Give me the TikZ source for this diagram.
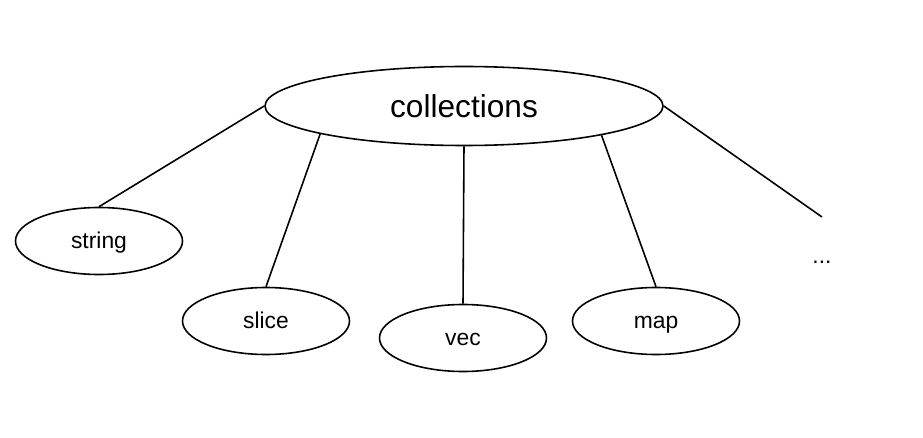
\documentclass[tikz,border=0pt]{standalone}
\usepackage{fontspec}
\setmainfont{Liberation Sans}
\usetikzlibrary{shapes.geometric}

\begin{document}
\begin{tikzpicture}[x=0.2mm,y=-0.2mm,font=\fontsize{13pt}{15pt}\selectfont]
\tikzset{root/.style={draw,ellipse,line width=0.9pt,inner sep=0pt,minimum width=79.6mm,minimum height=15.8mm,font=\fontsize{18pt}{21pt}\selectfont},
leaf/.style={draw,ellipse,line width=0.9pt,inner sep=0pt,minimum width=33.4mm,minimum height=13.4mm,text height=3.8mm,text depth=1mm},
link/.style={line width=0.9pt}}
\useasboundingbox (0,0) rectangle (923,438);
\node[root] (coll) at (464,106) {collections};
\node[leaf] (str) at (99,241) {string};
\node[leaf] (slice) at (266,321) {slice};
\node[leaf] (vec) at (463,338) {vec};
\node[leaf] (map) at (656,321) {map};
\node[text height=3.8mm,text depth=1mm] (more) at (822,256) {...};
\coordinate (rend) at (822,217);
\draw[link] (coll.west)--(str.north);
\draw[link] (coll.191.6)--(slice.north);
\draw[link] (coll.south)--(vec.north);
\draw[link] (coll.348.3)--(map.north);
\draw[link] (coll.east)--(rend);
\end{tikzpicture}
\end{document}
